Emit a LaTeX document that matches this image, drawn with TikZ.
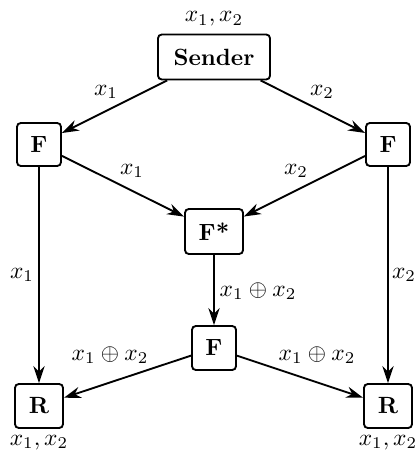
\documentclass[tikz,border=0pt]{standalone}
\usetikzlibrary{arrows.meta}
\def\pxu{0.4255pt}
\begin{document}
\begin{tikzpicture}[x=\pxu, y=-\pxu,
  box/.style={draw, thick, rounded corners=1.6pt, inner sep=0pt, font=\bfseries},
  arr/.style={thick, -{Stealth[length=7.2pt, width=4.8pt]}},
  lab/.style={inner sep=0pt}]
\useasboundingbox (0,0) rectangle (416,450);
% nodes
\node[box, minimum width={112*\pxu}, minimum height={45*\pxu}] (S) at (214,57) {Sender};
\node[box, minimum width={44*\pxu}, minimum height={43*\pxu}] (LF) at (39,144.5) {F};
\node[box, minimum width={44*\pxu}, minimum height={43*\pxu}] (RF) at (388,144.5) {F};
\node[box, minimum width={58*\pxu}, minimum height={45*\pxu}] (FS) at (214,231.5) {F*};
\node[box, minimum width={44*\pxu}, minimum height={44*\pxu}] (MF) at (214,348) {F};
\node[box, minimum width={48*\pxu}, minimum height={44*\pxu}] (RL) at (39,406) {R};
\node[box, minimum width={48*\pxu}, minimum height={44*\pxu}] (RR) at (388,406) {R};
% node texts
\node[lab] (tS) at (214,19) {$x_1, x_2$};
\node[lab] (tRL) at (39,442.5) {$x_1, x_2$};
\node[lab] (tRR) at (388,442.5) {$x_1, x_2$};
% connectors
\draw[arr] (S) -- (LF);
\draw[arr] (S) -- (RF);
\draw[arr] (LF) -- (FS);
\draw[arr] (RF) -- (FS);
\draw[arr] (LF) -- (RL);
\draw[arr] (RF) -- (RR);
\draw[arr] (FS) -- (MF);
\draw[arr] (MF) -- (RL);
\draw[arr] (MF) -- (RR);
% edge labels
\node[lab] (l1) at (106,92) {$x_1$};
\node[lab] (l2) at (322,92) {$x_2$};
\node[lab] (l3) at (132,171) {$x_1$};
\node[lab] (l4) at (296,171) {$x_2$};
\node[lab] (l5) at (22,275) {$x_1$};
\node[lab] (l6) at (404,275) {$x_2$};
\node[lab] (l7) at (258,291) {$x_1 \oplus x_2$};
\node[lab] (l8) at (110,355) {$x_1 \oplus x_2$};
\node[lab] (l9) at (317,355) {$x_1 \oplus x_2$};
\end{tikzpicture}
\end{document}
